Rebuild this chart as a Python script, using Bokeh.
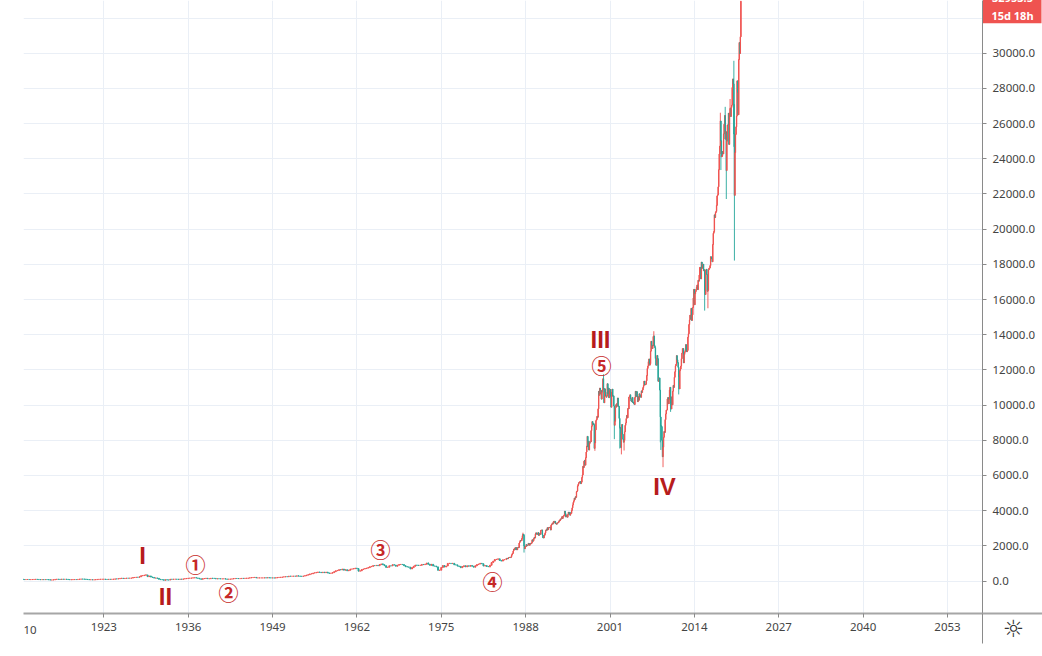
from bokeh.plotting import figure
from bokeh.models import FixedTicker, NumeralTickFormatter, Label, ColumnDataSource, Range1d
from bokeh.core.properties import value
from bokeh.embed import file_html
from bokeh.resources import INLINE

# ---------------- data ----------------
# Dow Jones Industrial Average, quarterly closes 1910-1984 (one row per year)
early_first_open = 99.0
early_quarter_close = [
    94, 85, 82, 81,        # 1910
    84, 86, 80, 82,        # 1911
    86, 90, 94, 88,        # 1912
    80, 78, 80, 79,        # 1913
    82, 80, 71, 54,        # 1914
    61, 68, 90, 99,        # 1915
    93, 88, 103, 95,       # 1916
    96, 95, 83, 74,        # 1917
    78, 82, 83, 82,        # 1918
    90, 106, 110, 107,     # 1919
    104, 91, 83, 72,       # 1920
    76, 68, 71, 81,        # 1921
    90, 94, 97, 99,        # 1922
    103, 89, 87, 95,       # 1923
    93, 96, 103, 120,      # 1924
    118, 130, 146, 156,    # 1925
    140, 150, 158, 157,    # 1926
    160, 166, 197, 202,    # 1927
    213, 210, 240, 300,    # 1928
    308, 333, 343, 248,    # 1929
    286, 226, 204, 165,    # 1930
    172, 150, 97, 78,      # 1931
    73, 43, 71, 60,        # 1932
    55, 98, 94, 100,       # 1933
    101, 96, 92, 104,      # 1934
    99, 118, 132, 144,     # 1935
    156, 160, 167, 180,    # 1936
    187, 169, 154, 121,    # 1937
    99, 134, 141, 155,     # 1938
    131, 131, 153, 150,    # 1939
    148, 122, 132, 131,    # 1940
    122, 123, 127, 111,    # 1941
    100, 103, 109, 119,    # 1942
    136, 143, 141, 136,    # 1943
    138, 148, 146, 152,    # 1944
    154, 165, 181, 193,    # 1945
    200, 205, 172, 177,    # 1946
    177, 177, 177, 181,    # 1947
    177, 189, 178, 177,    # 1948
    177, 168, 182, 200,    # 1949
    206, 209, 226, 235,    # 1950
    248, 243, 271, 269,    # 1951
    269, 274, 271, 292,    # 1952
    280, 268, 264, 281,    # 1953
    303, 334, 361, 404,    # 1954
    409, 451, 466, 488,    # 1955
    511, 492, 475, 500,    # 1956
    475, 503, 456, 436,    # 1957
    446, 478, 532, 584,    # 1958
    602, 644, 632, 679,    # 1959
    616, 641, 580, 616,    # 1960
    676, 684, 701, 731,    # 1961
    706, 561, 579, 652,    # 1962
    683, 707, 733, 763,    # 1963
    813, 831, 875, 874,    # 1964
    889, 868, 931, 969,    # 1965
    924, 870, 774, 786,    # 1966
    865, 860, 927, 905,    # 1967
    840, 898, 936, 944,    # 1968
    935, 873, 813, 800,    # 1969
    785, 684, 761, 839,    # 1970
    904, 891, 887, 890,    # 1971
    940, 929, 953, 1020,   # 1972
    951, 891, 947, 851,    # 1973
    847, 802, 608, 616,    # 1974
    769, 879, 794, 852,    # 1975
    1000, 1003, 990, 1005, # 1976
    919, 916, 848, 831,    # 1977
    757, 819, 866, 805,    # 1978
    862, 842, 878, 839,    # 1979
    786, 868, 932, 964,    # 1980
    1004, 977, 850, 875,   # 1981
    823, 812, 896, 1047,   # 1982
    1130, 1222, 1233, 1259,# 1983
    1165, 1133, 1207, 1212,# 1984
]

# monthly closes Jan 1985 - Mar 2021 (one row per year)
monthly_close = [
    1277, 1299, 1267, 1258, 1315, 1336, 1348, 1334, 1329, 1374, 1472, 1547,           # 1985
    1571, 1709, 1819, 1784, 1877, 1893, 1775, 1898, 1768, 1878, 1914, 1896,           # 1986
    2158, 2224, 2305, 2286, 2292, 2419, 2572, 2663, 2596, 1994, 1834, 1939,           # 1987
    1958, 2072, 1988, 2032, 2031, 2142, 2129, 2032, 2113, 2149, 2115, 2169,           # 1988
    2342, 2258, 2294, 2419, 2480, 2440, 2661, 2737, 2693, 2645, 2706, 2753,           # 1989
    2591, 2627, 2707, 2657, 2877, 2881, 2905, 2614, 2453, 2442, 2560, 2634,           # 1990
    2736, 2882, 2914, 2888, 3028, 2907, 3025, 3044, 3017, 3069, 2895, 3169,           # 1991
    3224, 3267, 3236, 3359, 3397, 3319, 3394, 3257, 3272, 3226, 3305, 3301,           # 1992
    3310, 3371, 3435, 3428, 3527, 3516, 3540, 3651, 3555, 3681, 3684, 3754,           # 1993
    3978, 3832, 3636, 3682, 3758, 3625, 3765, 3913, 3843, 3908, 3739, 3834,           # 1994
    3844, 4011, 4158, 4321, 4465, 4556, 4709, 4647, 4789, 4756, 5075, 5117,           # 1995
    5395, 5486, 5588, 5569, 5643, 5655, 5529, 5616, 5882, 6029, 6522, 6448,           # 1996
    6813, 6877, 6584, 7009, 7331, 7673, 8223, 7622, 7945, 7442, 7823, 7908,           # 1997
    7907, 8546, 8800, 9063, 8900, 8952, 8883, 7539, 7843, 8592, 9117, 9181,           # 1998
    9359, 9307, 9786, 10789, 10560, 10971, 10655, 10829, 10337, 10730, 10878, 11497,  # 1999
    10941, 10128, 10922, 10734, 10522, 10448, 10522, 11215, 10651, 10971, 10415, 10787,  # 2000
    10887, 10495, 9879, 10735, 10912, 10502, 10523, 9950, 8848, 9075, 9852, 10022,    # 2001
    9920, 10106, 10404, 9946, 9925, 9243, 8737, 8664, 7592, 8397, 8896, 8342,         # 2002
    8054, 7891, 7992, 8480, 8850, 8985, 9234, 9416, 9275, 9801, 9782, 10454,          # 2003
    10488, 10584, 10358, 10226, 10188, 10435, 10140, 10174, 10080, 10027, 10428, 10783,  # 2004
    10490, 10766, 10504, 10193, 10467, 10275, 10641, 10482, 10569, 10440, 10806, 10718,  # 2005
    10865, 10993, 11109, 11367, 11168, 11150, 11186, 11381, 11679, 12081, 12222, 12463,  # 2006
    12622, 12269, 12354, 13063, 13628, 13409, 13212, 13358, 13896, 13930, 13372, 13265,  # 2007
    12650, 12266, 12263, 12820, 12638, 11350, 11378, 11544, 10851, 9325, 8829, 8776,     # 2008
    8001, 7063, 7609, 8168, 8500, 8447, 9172, 9496, 9712, 9713, 10345, 10428,            # 2009
    10067, 10325, 10857, 11009, 10137, 9774, 10466, 10015, 10788, 11118, 11006, 11578,   # 2010
    11892, 12226, 12320, 12811, 12570, 12414, 12143, 11614, 10913, 11955, 12046, 12218,  # 2011
    12633, 12952, 13212, 13214, 12393, 12880, 13009, 13091, 13437, 13096, 13026, 13104,  # 2012
    13861, 14054, 14579, 14840, 15116, 14910, 15500, 14810, 15130, 15546, 16086, 16577,  # 2013
    15699, 16322, 16458, 16581, 16717, 16827, 16563, 17098, 17043, 17391, 17828, 17823,  # 2014
    17165, 18133, 17776, 17841, 18011, 17620, 17690, 16528, 16285, 17664, 17720, 17425,  # 2015
    16466, 16517, 17685, 17774, 17787, 17930, 18432, 18401, 18308, 18142, 19124, 19763,  # 2016
    19864, 20812, 20663, 20941, 21009, 21350, 21891, 21948, 22405, 23377, 24272, 24719,  # 2017
    26149, 25029, 24103, 24163, 24416, 24271, 25415, 25965, 26458, 25116, 25538, 23327,  # 2018
    24999, 25916, 25929, 26593, 24815, 26600, 26864, 26403, 26917, 27046, 28051, 28538,  # 2019
    28256, 25409, 21917, 24346, 25383, 25813, 26428, 28430, 27782, 26502, 29639, 30606,  # 2020
    29983, 30932, 32953.5,                                                               # 2021
]

# intra-period extremes (None = no wick beyond the body)
wick_period = ["1929-09", "1932-06", "1966-02", "1973-01", "1974-12", "1982-08",
               "1987-08", "1987-10", "1998-09", "2000-01", "2001-09", "2002-07",
               "2002-10", "2003-03", "2007-10", "2008-10", "2008-11", "2009-03",
               "2010-05", "2011-08", "2015-08", "2016-02", "2018-01", "2018-02",
               "2018-10", "2018-12", "2019-07", "2020-02", "2020-03", "2021-03"]
wick_high = [381, None, 995, 1051, None, None,
             2747, 2660, None, 11750, None, None,
             None, None, 14198, None, None, None,
             None, None, None, None, 26617, None,
             26951, None, 27398, 29568, 27102, 32990]
wick_low = [None, 41, None, None, 577, 777,
            None, 1616, 7400, None, 8062, 7532,
            7197, 7416, None, 7882, 7449, 6470,
            9614, 10604, 15370, 15503, None, 23360,
            None, 21713, None, 24681, 18214, None]

x_tick_years = [1923, 1936, 1949, 1962, 1975, 1988, 2001, 2014, 2027, 2040, 2053]
y_tick_values = [0, 2000, 4000, 6000, 8000, 10000, 12000, 14000, 16000,
                 18000, 20000, 22000, 24000, 26000, 28000, 30000]
y_grid_values = y_tick_values + [32000]

last_price_text = "32953.5"
countdown_text = "15d 18h"
first_tick_text = "10"
settings_icon = "☼"
wave_labels = ["I", "II", "III", "IV"]
circled_labels = ["①", "②", "③", "④", "⑤"]

# ---------------- build candles (red = rising, teal = falling) ----------------
extremes = {}
for per, hi, lo in zip(wick_period, wick_high, wick_low):
    yy, mm = int(per[:4]), int(per[5:])
    key = (yy, (mm - 1) // 3, "q") if yy < 1985 else (yy, mm - 1, "m")
    extremes[key] = (hi, lo)

RISE, FALL = "#ef5350", "#26a69a"
t, o, h, l, c, w, col = [], [], [], [], [], [], []

def add_bar(time, op, cl, key, width):
    hi, lo = max(op, cl), min(op, cl)
    ex = extremes.get(key)
    if ex:
        if ex[0] is not None:
            hi = max(hi, ex[0])
        if ex[1] is not None:
            lo = min(lo, ex[1])
    t.append(time); o.append(op); c.append(cl); h.append(hi); l.append(lo)
    w.append(width); col.append(RISE if cl >= op else FALL)

prev = early_first_open
for i, cl in enumerate(early_quarter_close):
    yy, q = 1910 + i // 4, i % 4
    add_bar(yy + q * 0.25, prev, cl, (yy, q, "q"), 0.25 * 0.6)
    prev = cl
for i, cl in enumerate(monthly_close):
    yy, m = 1985 + i // 12, i % 12
    add_bar(yy + m / 12.0, prev, cl, (yy, m, "m"), 0.6 / 12.0)
    prev = cl

src = ColumnDataSource(dict(t=t, o=o, h=h, l=l, c=c, w=w, col=col,
                            top=[max(a, b) for a, b in zip(o, c)],
                            bot=[min(a, b) for a, b in zip(o, c)]))

# ---------------- figure ----------------
PX0, PX_PER_YEAR = 103.3, 6.49       # px of 1923, px per year
PY0, PY_PER_UNIT = 580.5, 0.017593   # px of 0, px per point

def yr(px):
    return 1923 + (px - PX0) / PX_PER_YEAR

def val(py):
    return (PY0 - py) / PY_PER_UNIT

p = figure(width=1042, height=656, output_backend="svg", toolbar_location=None,
           x_range=Range1d(yr(23), yr(982)), y_range=Range1d(val(613), val(0)),
           y_axis_location="right", min_border_left=23, min_border_top=0,
           min_border_right=60, min_border_bottom=43)
p.outline_line_color = None
p.background_fill_color = "white"
p.border_fill_color = "white"

p.segment(x0="t", y0="l", x1="t", y1="h", color="col", line_width=1, line_alpha=0.9, source=src)
p.vbar(x="t", width="w", top="top", bottom="bot", fill_color="col", line_color="col",
       line_alpha=0.9, fill_alpha=0.9, source=src)

p.xaxis.ticker = FixedTicker(ticks=x_tick_years)
p.yaxis.ticker = FixedTicker(ticks=y_tick_values)
p.yaxis.formatter = NumeralTickFormatter(format="0.0")
p.xgrid.ticker = FixedTicker(ticks=x_tick_years)
p.ygrid.ticker = FixedTicker(ticks=y_grid_values)
p.xgrid.grid_line_color = "#eaeff6"
p.ygrid.grid_line_color = "#eaeff6"

for ax in (p.xaxis[0], p.yaxis[0]):
    ax.major_label_text_font = "Noto Sans"
    ax.major_label_text_font_size = "11.5px"
    ax.major_label_text_color = "#444444"
    ax.major_tick_in = 0
    ax.major_tick_out = 4
    ax.minor_tick_line_color = None
    ax.major_tick_line_color = "#8a8a8a"
p.xaxis.axis_line_color = "#a6a6a6"
p.xaxis.axis_line_width = 2
p.yaxis.axis_line_color = "#8a8a8a"
p.yaxis.major_label_standoff = 6
p.xaxis.major_label_standoff = 5

# wave labels (inside the plot area)
wave_pos = [(142, 555), (165, 596), (600, 339), (664, 486)]
for txt, (px, py) in zip(wave_labels, wave_pos):
    p.add_layout(Label(x=yr(px), y=val(py), text=txt, text_align="center",
                       text_baseline="middle", text_font="Liberation Sans",
                       text_font_style="bold", text_font_size="24px", text_color="#b71c1c"))
circ_pos = [(195, 564), (228, 592), (380, 549), (492, 581), (601, 365)]
for txt, (px, py) in zip(circled_labels, circ_pos):
    p.add_layout(Label(x=yr(px), y=val(py), text=txt, text_align="center",
                       text_baseline="middle", text_font="Noto Sans CJK JP",
                       text_font_style="bold", text_font_size="20px", text_color="#c62828"))

# --- elements outside the plot frame: overlay-level glyphs are not clipped ---
# axis line extensions
p.segment(x0=[yr(982)], y0=[val(613)], x1=[yr(1042)], y1=[val(613)],
          line_color="#a6a6a6", line_width=2, level="overlay")
p.segment(x0=[yr(982)], y0=[val(613)], x1=[yr(982)], y1=[val(643)],
          line_color="#8a8a8a", line_width=1, level="overlay")
# last price tag
p.quad(left=[yr(982.5)], right=[yr(1041)], bottom=[val(22.7)], top=[val(-12)],
       fill_color="#ef5350", line_color=None, level="overlay")
p.text(x=[yr(1012), yr(1012)], y=[val(-2.5), val(15.2)],
       text=[last_price_text, countdown_text], text_align="center", text_baseline="middle",
       text_font=value("Noto Sans"), text_font_size="11px", text_font_style="bold",
       text_color="white", level="overlay")
# partly hidden first time label and settings icon
p.text(x=[yr(23)], y=[val(629)], text=[first_tick_text], text_align="left",
       text_baseline="middle", text_font=value("Noto Sans"), text_font_size="11.5px",
       text_color="#444444", level="overlay")
p.text(x=[yr(1013)], y=[val(628)], text=[settings_icon], text_align="center",
       text_baseline="middle", text_font=value("DejaVu Sans"), text_font_size="24px",
       text_color="#333333", level="overlay")

open("out.html", "w").write(file_html(p, INLINE))
